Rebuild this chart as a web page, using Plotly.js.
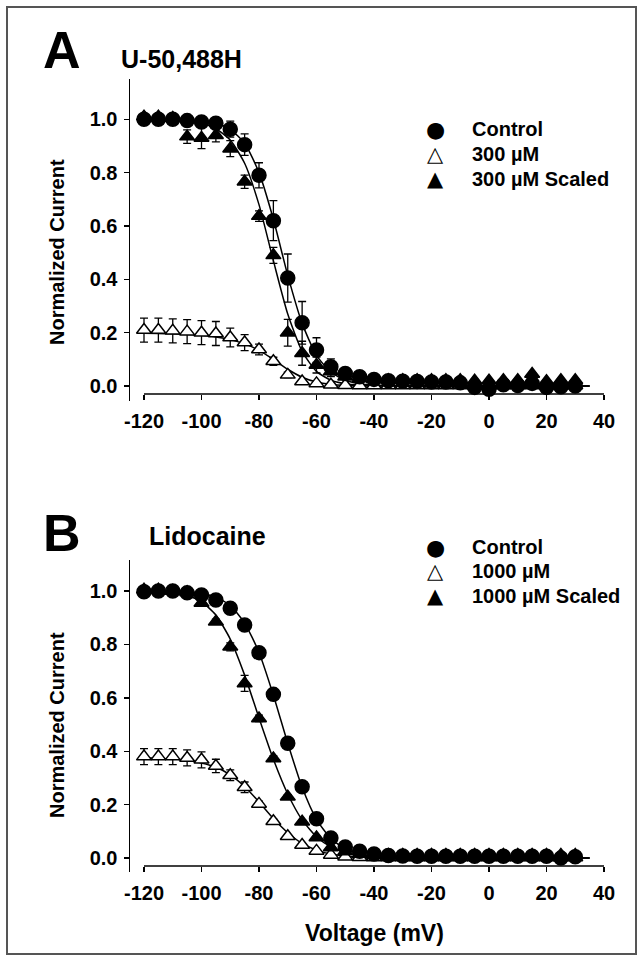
<!DOCTYPE html>
<html>
<head>
<meta charset="utf-8">
<script src="https://cdn.plot.ly/plotly-3.0.1.min.js"></script>
<style>html,body{margin:0;padding:0;background:#fff;}#chart{width:643px;height:961px;}</style>
</head>
<body>
<div id="chart"></div>
<script>
// Voltages of the measured points (mV)
const volt = [-120,-115,-110,-105,-100,-95,-90,-85,-80,-75,-70,-65,-60,-55,-50,-45,-40,-35,-30,-25,-20,-15,-10,-5,0,5,10,15,20,25,30];
// Voltages at which the fitted curves were read
const fitVolt = [-120,-115,-110,-105,-100,-95,-90,-85,-80,-75,-70,-65,-60,-55,-50,-45,-40,-35,-30,-25,-20,-15,-10,-5,0,5,10,15,20,25,30,35];

// Panel A: U-50,488H
const ctrlA    = [1.0,1.0,1.0,0.995,0.99,0.985,0.963,0.905,0.79,0.62,0.405,0.237,0.135,0.072,0.047,0.035,0.025,0.02,0.018,0.017,0.015,0.015,0.012,-0.005,-0.012,0.005,0.002,0.01,-0.005,-0.003,0.0];
const ctrlAErr = [0.01,0.01,0.01,0.01,0.01,0.015,0.03,0.04,0.047,0.075,0.09,0.08,0.046,0.03,0.02,0.015,0.01,0.01,0.01,0.01,0.01,0.01,0.01,0.01,0.01,0.01,0.01,0.01,0.01,0.01,0.01];
const sclA     = [1.01,1.01,1.005,0.935,0.93,0.94,0.89,0.766,0.637,0.49,0.2,0.123,0.079,0.055,0.035,0.028,0.025,0.022,0.022,0.022,0.022,0.022,0.022,0.02,0.02,0.022,0.022,0.045,0.018,0.022,0.022];
const sclAErr  = [0.005,0.005,0.005,0.025,0.04,0.025,0.03,0.025,0.02,0.03,0.05,0.045,0.03,0.02,0.005,0.005,0.005,0.005,0.005,0.005,0.005,0.005,0.005,0.005,0.005,0.005,0.005,0.005,0.005,0.005,0.005];
const opnA     = [0.21,0.21,0.207,0.204,0.2,0.197,0.182,0.163,0.137,0.093,0.042,0.017,0.01,0.005,0.003,0.002,0.002,0.002,0.002,0.002,0.002,0.002,0.002,0.002,0.002,0.002,0.002,0.002,0.002,0.002,0.002];
const opnAErr  = [0.045,0.045,0.045,0.045,0.045,0.045,0.035,0.03,0.02,0.015,0.01,0.003,0.003,0.003,0.003,0.003,0.003,0.003,0.003,0.003,0.003,0.003,0.003,0.003,0.003,0.003,0.003,0.003,0.003,0.003,0.003];
const fitCtrlA = [1.0,1.0,1.0,0.998,0.995,0.986,0.962,0.91,0.8,0.625,0.415,0.235,0.115,0.052,0.022,0.009,0.004,0.002,0.001,0,0,0,0,0,0,0,0,0,0,0,0,0];
const fitSclA  = [1.0,1.0,0.998,0.994,0.985,0.965,0.922,0.835,0.68,0.47,0.27,0.13,0.055,0.022,0.009,0.004,0.002,0.001,0,0,0,0,0,0,0,0,0,0,0,0,0,0];
const fitOpnA  = [0.198,0.197,0.196,0.194,0.19,0.184,0.174,0.158,0.134,0.1,0.063,0.033,0.015,0.006,0.002,0.001,0,0,0,0,0,0,0,0,0,0,0,0,0,0,0,0];

// Panel B: Lidocaine
const ctrlB    = [0.997,1.0,1.0,0.993,0.985,0.966,0.935,0.873,0.769,0.613,0.43,0.267,0.147,0.075,0.042,0.026,0.015,0.01,0.008,0.007,0.007,0.007,0.007,0.007,0.007,0.007,0.007,0.007,0.007,0.0,0.005];
const ctrlBErr = [0.008,0.008,0.008,0.008,0.008,0.008,0.008,0.01,0.01,0.01,0.01,0.01,0.01,0.008,0.008,0.008,0.008,0.008,0.008,0.008,0.008,0.008,0.008,0.008,0.008,0.008,0.008,0.008,0.008,0.008,0.008];
const sclB     = [1.005,1.005,1.0,0.995,0.955,0.885,0.791,0.654,0.523,0.373,0.23,0.136,0.077,0.04,0.025,0.015,0.012,0.012,0.012,0.012,0.012,0.012,0.012,0.012,0.012,0.012,0.012,0.012,0.012,0.012,0.012];
const sclBErr  = [0.006,0.006,0.006,0.006,0.008,0.01,0.015,0.03,0.012,0.01,0.008,0.008,0.006,0.006,0.006,0.006,0.006,0.006,0.006,0.006,0.006,0.006,0.006,0.006,0.006,0.006,0.006,0.006,0.006,0.006,0.006];
const opnB     = [0.38,0.38,0.38,0.375,0.368,0.345,0.31,0.265,0.203,0.138,0.082,0.049,0.027,0.012,0.005,0.003,0.002,0.002,0.002,0.002,0.002,0.002,0.002,0.002,0.002,0.002,0.002,0.002,0.002,0.002,0.002];
const opnBErr  = [0.03,0.03,0.03,0.03,0.03,0.025,0.02,0.02,0.01,0.008,0.005,0.005,0.005,0.005,0.005,0.005,0.005,0.005,0.005,0.005,0.005,0.005,0.005,0.005,0.005,0.005,0.005,0.005,0.005,0.005,0.005];
const fitCtrlB = [1.0,1.0,0.999,0.997,0.991,0.977,0.946,0.88,0.77,0.61,0.43,0.265,0.145,0.073,0.035,0.016,0.007,0.003,0.001,0,0,0,0,0,0,0,0,0,0,0,0,0];
const fitSclB  = [0.999,0.997,0.993,0.983,0.96,0.91,0.82,0.685,0.525,0.37,0.24,0.143,0.08,0.042,0.021,0.01,0.005,0.002,0.001,0,0,0,0,0,0,0,0,0,0,0,0,0];
const fitOpnB  = [0.376,0.374,0.371,0.366,0.356,0.34,0.312,0.268,0.21,0.148,0.095,0.055,0.03,0.015,0.007,0.003,0.001,0,0,0,0,0,0,0,0,0,0,0,0,0,0,0];

const xTicks = [-120,-100,-80,-60,-40,-20,0,20,40];
const xTickText = ['-120','-100','-80','-60','-40','-20','0','20','40'];
const yTicks = [0,0.2,0.4,0.6,0.8,1.0];
const yTickText = ['0.0','0.2','0.4','0.6','0.8','1.0'];

const legendA = ['Control','300 µM','300 µM Scaled'];
const legendB = ['Control','1000 µM','1000 µM Scaled'];
const legendSymbols = ['●','△','▲'];

const FONT = 'Liberation Sans, Arial, Helvetica, sans-serif';
const W = 643, H = 961;
const px = v => v / W;
const py = v => (H - v) / H;

function fitTrace(y, xa, ya) {
  return {x: fitVolt, y: y, xaxis: xa, yaxis: ya, mode: 'lines', line: {color: 'black', width: 1.5, shape: 'spline', smoothing: 0.6}, showlegend: false, hoverinfo: 'skip'};
}
function ptTrace(y, err, xa, ya, name, sym, fill, size) {
  return {x: volt, y: y, xaxis: xa, yaxis: ya, mode: 'markers', name: name, showlegend: false,
    marker: {symbol: sym, size: size, color: fill, line: {color: 'black', width: 1.5}},
    error_y: {type: 'data', array: err, visible: true, color: 'black', thickness: 1.3, width: 4}};
}

const traces = [
  fitTrace(fitOpnA, 'x', 'y'), fitTrace(fitCtrlA, 'x', 'y'), fitTrace(fitSclA, 'x', 'y'),
  ptTrace(opnA, opnAErr, 'x', 'y', legendA[1], 'triangle-up', 'white', 13),
  ptTrace(ctrlA, ctrlAErr, 'x', 'y', legendA[0], 'circle', 'black', 14),
  ptTrace(sclA, sclAErr, 'x', 'y', legendA[2], 'triangle-up', 'black', 13),
  fitTrace(fitOpnB, 'x2', 'y2'), fitTrace(fitCtrlB, 'x2', 'y2'), fitTrace(fitSclB, 'x2', 'y2'),
  ptTrace(opnB, opnBErr, 'x2', 'y2', legendB[1], 'triangle-up', 'white', 13),
  ptTrace(ctrlB, ctrlBErr, 'x2', 'y2', legendB[0], 'circle', 'black', 14),
  ptTrace(sclB, sclBErr, 'x2', 'y2', legendB[2], 'triangle-up', 'black', 13)
];

const tickFont = {family: FONT, size: 20, color: 'black', weight: 'bold'};
function xAxis(pos) {
  return {domain: [px(130), px(604)], range: [-124.87, 40], anchor: 'free', position: pos,
    tickvals: xTicks, ticktext: xTickText, ticks: 'outside', ticklen: 5, tickwidth: 1.5, tickcolor: 'black',
    showline: false, showgrid: false, zeroline: false, tickfont: tickFont, ticklabelstandoff: 4, fixedrange: true};
}
function yAxis(dom, rng, xa) {
  return {domain: dom, range: rng, anchor: xa, tickvals: yTicks, ticktext: yTickText,
    ticks: 'outside', ticklen: 5, tickwidth: 1.5, tickcolor: 'black', showline: true, linewidth: 1.5, linecolor: 'black',
    showgrid: false, zeroline: false, tickfont: tickFont, ticklabelstandoff: 2, fixedrange: true};
}

const annotations = [
  {text: 'A', x: 62, y: 50, xanchor: 'center', size: 52},
  {text: 'U-50,488H', x: 119, y: 59, xanchor: 'left', size: 25},
  {text: 'B', x: 62, y: 533, xanchor: 'center', size: 52},
  {text: 'Lidocaine', x: 147, y: 536, xanchor: 'left', size: 25},
  {text: 'Voltage (mV)', x: 374, y: 933, xanchor: 'center', size: 23}
].map(a => ({text: a.text, xref: 'paper', yref: 'paper', x: px(a.x), y: py(a.y), xanchor: a.xanchor, yanchor: 'middle', showarrow: false,
  font: {family: FONT, size: a.size, weight: 'bold', color: 'black'}}));

[252, 725].forEach(yc => annotations.push({text: 'Normalized Current', xref: 'paper', yref: 'paper', x: px(57), y: py(yc),
  xanchor: 'center', yanchor: 'middle', textangle: -90, showarrow: false, font: {family: FONT, size: 20, weight: 'bold', color: 'black'}}));

function addLegend(labels, rows) {
  labels.forEach((lab, i) => {
    annotations.push({text: legendSymbols[i], xref: 'paper', yref: 'paper', x: px(435), y: py(rows[i]), xanchor: 'center', yanchor: 'middle',
      showarrow: false, font: {family: 'DejaVu Sans', size: i === 0 ? 22 : 21, color: 'black'}});
    annotations.push({text: lab, xref: 'paper', yref: 'paper', x: px(470), y: py(rows[i]), xanchor: 'left', yanchor: 'middle',
      showarrow: false, font: {family: FONT, size: 20, weight: 'bold', color: 'black'}});
  });
}
addLegend(legendA, [129, 154, 179]);
addLegend(legendB, [547, 571, 596]);

const layout = {
  width: W, height: H, margin: {l: 0, r: 0, t: 0, b: 0}, paper_bgcolor: 'white', plot_bgcolor: 'white', showlegend: false,
  xaxis: xAxis(py(394)),
  yaxis: yAxis([py(401), py(79)], [-0.056, 1.151], 'x'),
  xaxis2: xAxis(py(866)),
  yaxis2: yAxis([py(872), py(560)], [-0.052, 1.116], 'x2'),
  shapes: [
    {type: 'line', xref: 'x', yref: 'paper', x0: -120, x1: 40, y0: py(394), y1: py(394), line: {color: 'black', width: 1.5}},
    {type: 'line', xref: 'x2', yref: 'paper', x0: -120, x1: 40, y0: py(866), y1: py(866), line: {color: 'black', width: 1.5}},
    {type: 'rect', xref: 'paper', yref: 'paper', x0: px(7), x1: px(636), y0: py(954), y1: py(7), line: {color: '#555', width: 2}}
  ],
  annotations: annotations
};

Plotly.newPlot('chart', traces, layout, {staticPlot: true, displayModeBar: false});
</script>
</body>
</html>
